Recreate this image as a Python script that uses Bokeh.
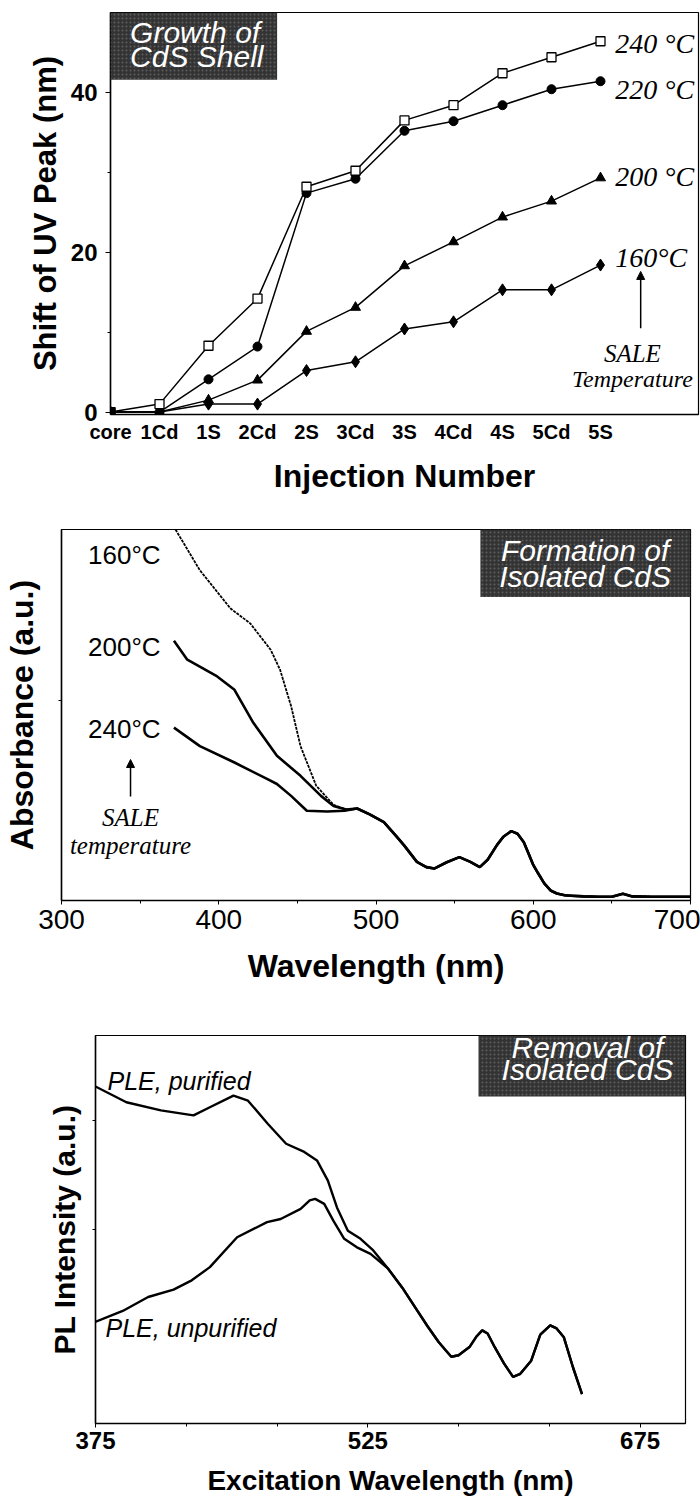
from bokeh.plotting import figure
from bokeh.models import FixedTicker, Label, BoxAnnotation, Arrow, NormalHead, Range1d
from bokeh.embed import file_html
from bokeh.resources import INLINE

# ---------------- data: panel 1 (shift of UV peak vs injection) ----------------
injections = ["core", "1Cd", "1S", "2Cd", "2S", "3Cd", "3S", "4Cd", "4S", "5Cd", "5S"]
shift_240 = [0, 1.0, 8.3, 14.2, 28.2, 30.2, 36.5, 38.4, 42.4, 44.4, 46.4]
shift_220 = [0, 0.0, 4.1, 8.2, 27.4, 29.2, 35.2, 36.4, 38.4, 40.4, 41.4]
shift_200 = [0, 0.0, 1.5, 4.0, 10.1, 13.1, 18.3, 21.3, 24.4, 26.4, 29.3]
shift_160 = [0, 0.0, 1.0, 1.0, 5.2, 6.3, 10.4, 11.3, 15.3, 15.3, 18.4]

# ---------------- data: panel 2 (absorbance spectra) ----------------
wl_160 = [372.5, 388, 407.5, 420, 433, 439, 446, 452, 462, 473, 481]
abs_160 = [1.0, 0.89, 0.787, 0.747, 0.676, 0.622, 0.524, 0.416, 0.309, 0.258, 0.245]
wl_200 = [371.5, 380, 399, 410, 422, 437, 452, 465, 473, 481]
abs_200 = [0.70, 0.649, 0.604, 0.568, 0.479, 0.39, 0.336, 0.282, 0.255, 0.245]
wl_240 = [371.5, 388, 410, 431, 437, 446, 456, 469, 480]
abs_240 = [0.466, 0.416, 0.372, 0.327, 0.314, 0.282, 0.242, 0.240, 0.242]
wl_common = [488, 496, 505, 513, 518, 526, 532, 537, 545, 553, 560, 566, 571, 577, 581, 586,
             590, 594, 597, 600, 603, 607, 611, 615, 620, 624, 632, 641, 650, 657, 663, 675, 690, 700]
abs_common = [0.248, 0.232, 0.211, 0.173, 0.148, 0.104, 0.090, 0.086, 0.103, 0.117, 0.104, 0.090,
              0.110, 0.150, 0.172, 0.187, 0.180, 0.157, 0.127, 0.096, 0.074, 0.046, 0.027, 0.019,
              0.014, 0.013, 0.011, 0.010, 0.010, 0.018, 0.011, 0.010, 0.010, 0.010]

# ---------------- data: panel 3 (PLE spectra) ----------------
wl_pur = [374, 392, 411, 429, 438, 451, 459, 470, 480, 490, 497, 503, 508, 514, 521, 528]
pl_pur = [0.871, 0.828, 0.807, 0.794, 0.815, 0.845, 0.832, 0.772, 0.721, 0.700, 0.678, 0.626,
          0.557, 0.497, 0.476, 0.446]
wl_unp = [374.3, 390, 404, 418, 428, 438, 453, 469.5, 477, 488, 493, 496, 501, 506, 512, 519, 526.5]
pl_unp = [0.261, 0.29, 0.326, 0.345, 0.369, 0.403, 0.48, 0.519, 0.527, 0.553, 0.575, 0.579,
          0.566, 0.523, 0.476, 0.454, 0.437]
wl_ple_common = [536, 544, 551, 558, 564, 568, 571, 575, 581, 585, 588, 591, 595, 600, 605, 609,
                 615, 620, 625.5, 629, 633, 638, 643]
pl_common = [0.40, 0.35, 0.30, 0.25, 0.21, 0.188, 0.172, 0.176, 0.197, 0.225, 0.24, 0.232, 0.196,
             0.155, 0.12, 0.128, 0.162, 0.229, 0.253, 0.245, 0.222, 0.145, 0.076]

SANS = "Liberation Sans"
SERIF = "Liberation Serif"
BOX = "#333333"


def base_fig(**kw):
    p = figure(output_backend="svg", toolbar_location=None, **kw)
    p.grid.visible = False
    p.outline_line_color = "black"
    p.outline_line_width = 1.2
    for ax in (p.xaxis[0], p.yaxis[0]):
        ax.axis_line_width = 1.5
        ax.axis_line_color = "black"
        ax.major_tick_line_color = "black"
        ax.minor_tick_line_color = "black"
        ax.major_tick_in = 0
        ax.minor_tick_in = 0
        ax.axis_label_text_font = SANS
        ax.axis_label_text_font_style = "bold"
        ax.axis_label_text_color = "black"
        ax.major_label_text_font = SANS
        ax.major_label_text_color = "black"
    return p


def box_text(p, left, right, top, bottom):
    p.add_layout(BoxAnnotation(left=left, right=right, top=top, bottom=bottom,
                               fill_color=BOX, fill_alpha=1.0, line_color=None,
                               hatch_pattern="dot", hatch_color="#7a7a7a", hatch_scale=4,
                               hatch_weight=1.0, hatch_alpha=0.6))


def lab(p, x, y, text, font=SANS, size="24px", style="normal", color="black",
        align="left", baseline="middle"):
    p.add_layout(Label(x=x, y=y, text=text, text_font=font, text_font_size=size,
                       text_font_style=style, text_color=color, text_align=align,
                       text_baseline=baseline))


# ======================= Panel 1 =======================
p1 = base_fig(width=700, height=498, x_range=Range1d(0, 12.0), y_range=Range1d(-0.3, 50),
              min_border_left=110, min_border_right=2, min_border_top=12, min_border_bottom=84)
idx = list(range(len(injections)))
p1.line(idx, shift_240, line_color="black", line_width=1.5)
p1.line(idx, shift_220, line_color="black", line_width=1.5)
p1.line(idx, shift_200, line_color="black", line_width=1.5)
p1.line(idx, shift_160, line_color="black", line_width=1.5)
p1.scatter(idx, shift_160, marker="diamond", size=12, fill_color="black", line_color="black")
p1.scatter(idx, shift_200, marker="triangle", size=10, fill_color="black", line_color="black")
p1.scatter(idx, shift_220, marker="circle", size=9, fill_color="black", line_color="black")
p1.scatter(idx, shift_240, marker="square", size=9, fill_color="white", line_color="black",
           line_width=1.3)
p1.scatter([0], [shift_240[0]], marker="square", size=9, fill_color="black", line_color="black")

p1.xaxis.ticker = FixedTicker(ticks=idx)
p1.xaxis.major_label_overrides = {i: n for i, n in enumerate(injections)}
p1.xaxis.major_tick_line_color = None
p1.xaxis.minor_tick_line_color = None
p1.xaxis.major_tick_out = 0
p1.xaxis.minor_tick_out = 0
p1.xaxis.major_label_text_font_size = "20px"
p1.xaxis.major_label_text_font_style = "bold"
p1.xaxis.major_label_standoff = 6
p1.xaxis.axis_label = "Injection Number"
p1.xaxis.axis_label_text_font_size = "32px"
p1.xaxis.axis_label_standoff = 12

p1.yaxis.ticker = FixedTicker(ticks=[0, 20, 40], minor_ticks=[10, 30])
p1.yaxis.major_tick_out = 5
p1.yaxis.minor_tick_out = 3
p1.yaxis.major_label_text_font_size = "24px"
p1.yaxis.major_label_text_font_style = "bold"
p1.yaxis.major_label_standoff = 8
p1.yaxis.axis_label = "Shift of UV Peak (nm)"
p1.yaxis.axis_label_text_font_size = "31px"
p1.yaxis.axis_label_standoff = 5

box_text(p1, 0, 3.4, 50, 41.6)
lab(p1, 0.4, 47.5, "Growth of", size="30px", style="italic", color="white")
lab(p1, 0.4, 44.5, "CdS Shell", size="30px", style="italic", color="white")
for txt, yy in (("240 °C", 46.1), ("220 °C", 40.4), ("200 °C", 29.5), ("160°C", 19.4)):
    lab(p1, 10.3, yy, txt, font=SERIF, size="28px", style="italic")
p1.add_layout(Arrow(x_start=10.82, y_start=10.5, x_end=10.82, y_end=17.6, line_width=1.5,
                    line_color="black",
                    end=NormalHead(size=8, fill_color="black", line_color="black")))
lab(p1, 10.65, 7.3, "SALE", font=SERIF, size="25px", style="italic", align="center")
lab(p1, 10.65, 4.2, "Temperature", font=SERIF, size="24px", style="italic", align="center")

# ======================= Panel 2 =======================
p2 = base_fig(width=700, height=502, x_range=Range1d(300, 700), y_range=Range1d(0, 1.0),
              min_border_left=61, min_border_right=10, min_border_top=31, min_border_bottom=100)
p2.line(wl_240 + wl_common, abs_240 + abs_common, line_color="black", line_width=2.6)
p2.line(wl_200 + wl_common, abs_200 + abs_common, line_color="black", line_width=2.6)
p2.line(wl_160 + wl_common, abs_160 + abs_common, line_color="black", line_width=1.8,
        line_dash="3 1")

p2.xaxis.ticker = FixedTicker(ticks=[300, 400, 500, 600, 700], minor_ticks=[350, 450, 550, 650])
p2.xaxis.major_tick_out = 4
p2.xaxis.minor_tick_out = 3
p2.xaxis.major_label_text_font_size = "28px"
p2.xaxis.major_label_standoff = 5
p2.xaxis.axis_label = "Wavelength (nm)"
p2.xaxis.axis_label_text_font_size = "32px"
p2.xaxis.axis_label_standoff = 16
p2.yaxis.ticker = FixedTicker(ticks=[], minor_ticks=[0.54])
p2.yaxis.minor_tick_out = 3
p2.yaxis.major_label_standoff = 0
p2.yaxis.axis_label = "Absorbance (a.u.)"
p2.yaxis.axis_label_text_font_size = "32px"
p2.yaxis.axis_label_standoff = 19

box_text(p2, 566.4, 700, 1.0, 0.818)
lab(p2, 633, 0.944, "Formation of", size="30px", style="italic", color="white", align="center")
lab(p2, 633, 0.874, "Isolated CdS", size="30px", style="italic", color="white", align="center")
for txt, yy in (("160°C", 0.930), ("200°C", 0.684), ("240°C", 0.461)):
    lab(p2, 363, yy, txt, size="26px", align="right")
p2.add_layout(Arrow(x_start=343.9, y_start=0.28, x_end=343.9, y_end=0.38, line_width=1.5,
                    line_color="black",
                    end=NormalHead(size=8, fill_color="black", line_color="black")))
lab(p2, 343.9, 0.225, "SALE", font=SERIF, size="25px", style="italic", align="center")
lab(p2, 343.9, 0.147, "temperature", font=SERIF, size="25px", style="italic", align="center")

# ======================= Panel 3 =======================
p3 = base_fig(width=700, height=507, x_range=Range1d(375, 700), y_range=Range1d(0, 1.0),
              min_border_left=95, min_border_right=15, min_border_top=35, min_border_bottom=84)
p3.line(wl_pur + wl_ple_common, pl_pur + pl_common, line_color="black", line_width=2.4)
p3.line(wl_unp + wl_ple_common, pl_unp + pl_common, line_color="black", line_width=2.4)

p3.xaxis.ticker = FixedTicker(ticks=[375, 525, 675], minor_ticks=[425, 475, 575, 625])
p3.xaxis.major_tick_out = 4
p3.xaxis.minor_tick_out = 3
p3.xaxis.major_label_text_font_size = "24px"
p3.xaxis.major_label_text_font_style = "bold"
p3.xaxis.major_label_standoff = 4
p3.xaxis.axis_label = "Excitation Wavelength (nm)"
p3.xaxis.axis_label_text_font_size = "28px"
p3.xaxis.axis_label_standoff = 13
p3.yaxis.ticker = FixedTicker(ticks=[], minor_ticks=[0.5, 0.78])
p3.yaxis.minor_tick_out = 3
p3.yaxis.major_label_standoff = 0
p3.yaxis.axis_label = "PL Intensity (a.u.)"
p3.yaxis.axis_label_text_font_size = "30px"
p3.yaxis.axis_label_standoff = 12

box_text(p3, 586, 700, 1.0, 0.843)
lab(p3, 646, 0.969, "Removal of", size="30px", style="italic", color="white", align="center")
lab(p3, 646, 0.912, "Isolated CdS", size="30px", style="italic", color="white", align="center")
lab(p3, 381.6, 0.884, "PLE, purified", size="25px", style="italic")
lab(p3, 380.5, 0.247, "PLE, unpurified", size="25px", style="italic")

open("out.html", "w").write(file_html([p1, p2, p3], INLINE))
